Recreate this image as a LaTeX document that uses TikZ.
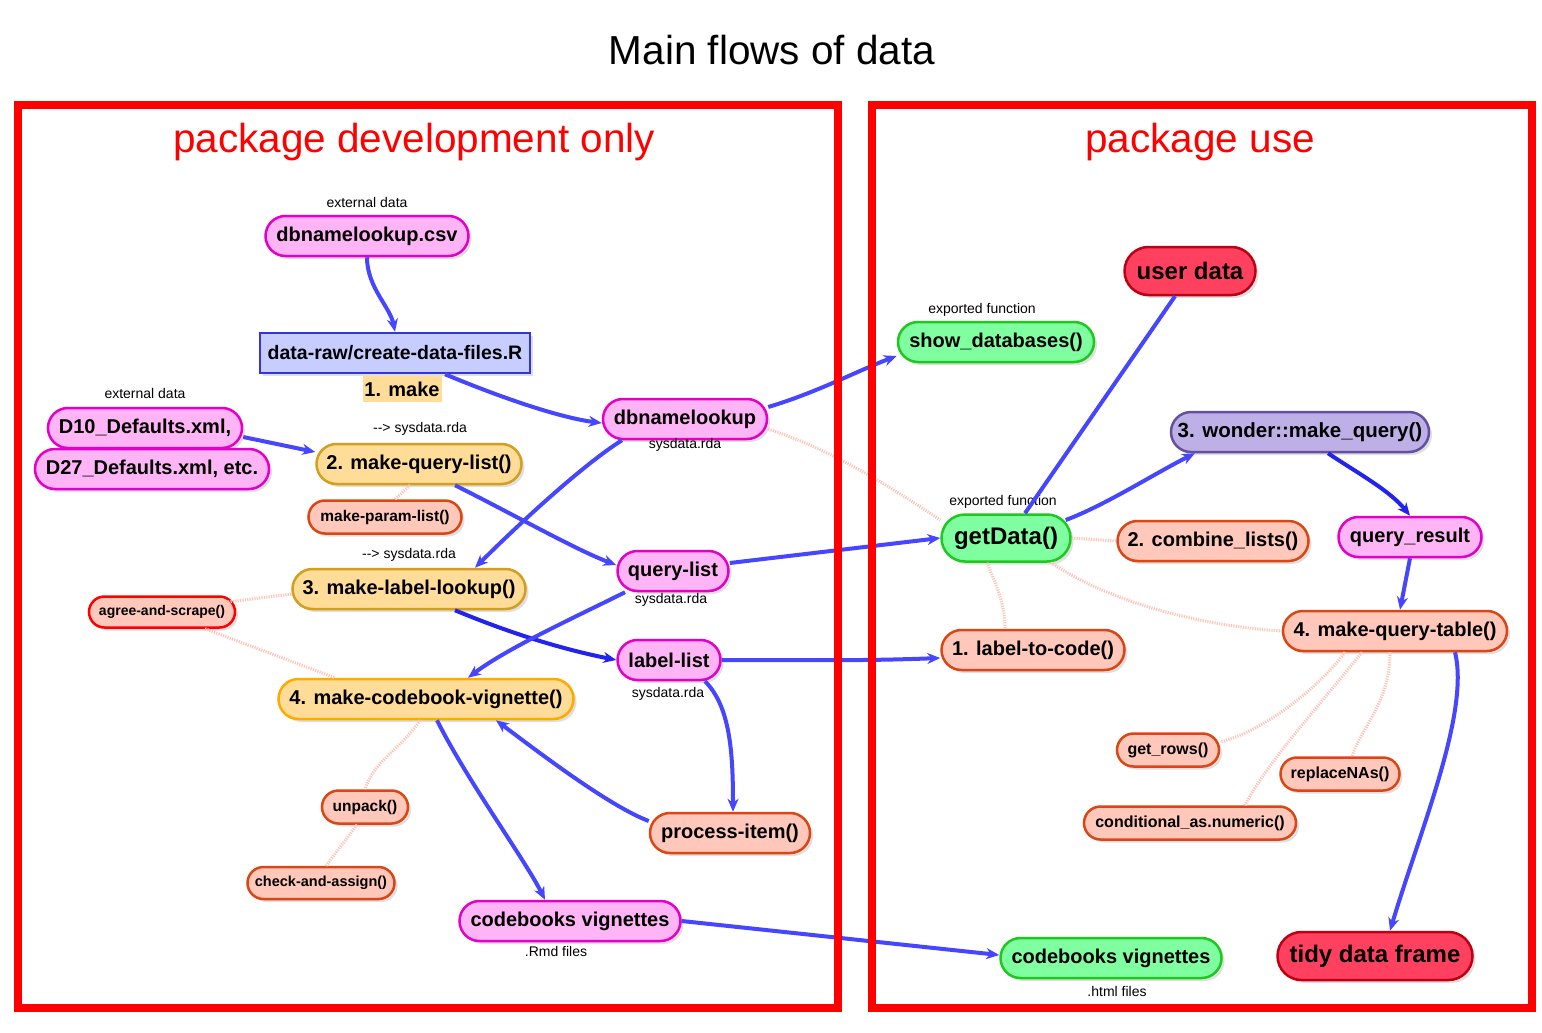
\documentclass[tikz,border=0pt]{standalone}
\usepackage{fontspec}
\setmainfont{Liberation Sans}
\usepackage{tikz}
\usetikzlibrary{arrows.meta}
\usetikzlibrary{shapes.misc}
\usetikzlibrary{shadows}

\definecolor{pinkfill}{RGB}{255,180,245}
\definecolor{pinkline}{RGB}{228,0,200}
\definecolor{yellowfill}{RGB}{255,221,153}
\definecolor{yellowline}{RGB}{212,158,30}
\definecolor{orangeline}{RGB}{255,170,0}
\definecolor{salmonfill}{RGB}{255,200,186}
\definecolor{salmonline}{RGB}{218,70,20}
\definecolor{greenfill}{RGB}{128,255,160}
\definecolor{greenline}{RGB}{30,200,30}
\definecolor{redfill}{RGB}{255,65,95}
\definecolor{redline}{RGB}{190,0,20}
\definecolor{purplefill}{RGB}{190,176,230}
\definecolor{purpleline}{RGB}{100,80,160}
\definecolor{boxfill}{RGB}{200,205,255}
\definecolor{boxline}{RGB}{50,50,230}
\definecolor{flowblue}{RGB}{70,70,255}
\definecolor{darkflow}{RGB}{35,35,240}
\definecolor{dotline}{RGB}{255,196,186}

\tikzset{
  pill/.style={rounded rectangle, draw, line width=2.5pt, minimum height=40pt,
    inner xsep=6pt, inner ysep=2pt, font=\bfseries\fontsize{20}{20}\selectfont,
    drop shadow={shadow xshift=3pt, shadow yshift=-3pt, opacity=0.25}},
  pinknode/.style={pill, fill=pinkfill, draw=pinkline},
  yellownode/.style={pill, fill=yellowfill, draw=yellowline},
  salmonnode/.style={pill, fill=salmonfill, draw=salmonline},
  greennode/.style={pill, fill=greenfill, draw=greenline},
  rednode/.style={pill, fill=redfill, draw=redline, minimum height=48pt, font=\bfseries\fontsize{24}{24}\selectfont},
  smallnode/.style={salmonnode, minimum height=33pt, font=\bfseries\fontsize{15.5}{15.5}\selectfont},
  tag/.style={font=\fontsize{14}{14}\selectfont, inner sep=1pt},
  flow/.style={draw=flowblue, line width=4pt, -{Stealth[length=13pt,width=11pt]}},
  darkflowline/.style={flow, draw=darkflow},
  helper/.style={draw=dotline, line width=3pt, dash pattern=on 1.2pt off 1.2pt},
  frame/.style={draw=red, line width=8pt}
}

\begin{document}
\begin{tikzpicture}[x=1pt,y=-1pt]
\fill[white] (0,0) rectangle (1542,1033);
\useasboundingbox (0,0) rectangle (1542,1033);

\node (title) at (772,50) {\fontsize{40.5}{40.5}\selectfont Main flows of data};
\node[red] (devtitle) at (414,142) {\fontsize{40.5}{40.5}\selectfont package development only};
\node[red] (usetitle) at (1200,142) {\fontsize{40.5}{40.5}\selectfont package use};

% development side
\node[pinknode, minimum width=215pt] (csv) at (367,236) {dbnamelookup.csv};
\node[tag] (csvtag) at (367,202) {external data};
\node[draw=boxline, fill=boxfill, line width=2.5pt, minimum width=270pt, minimum height=40pt,
  font=\bfseries\fontsize{19.5}{19.5}\selectfont, inner sep=2pt,
  drop shadow={shadow xshift=3pt, shadow yshift=-3pt, opacity=0.25}] (script) at (395,353) {data-raw/create-data-files.R};
\node[fill=yellowfill, minimum width=79pt, minimum height=26pt, inner sep=1pt,
  font=\bfseries\fontsize{20}{20}\selectfont] (make) at (402,389) {1. make};
\node[pinknode, minimum width=206pt] (dten) at (145,428) {D10\_Defaults.xml,};
\node[tag] (dtag) at (145,393) {external data};
\node[pinknode, minimum width=246pt] (dtwo) at (152,469) {D27\_Defaults.xml, etc.};
\node[yellownode, minimum width=217pt] (mql) at (419,464) {2. make-query-list()};
\node[tag] (mqltag) at (420,429) {-{}-> sysdata.rda};
\node[smallnode, minimum width=165pt] (mpl) at (385,517) {make-param-list()};
\node[pinknode, minimum width=176pt] (dbnl) at (685,419) {dbnamelookup};
\node[tag] (dbnltag) at (685,445) {sysdata.rda};
\node[pinknode, minimum width=123pt] (ql) at (673,571) {query-list};
\node[tag] (qltag) at (671,600) {sysdata.rda};
\node[yellownode, minimum width=245pt] (mll) at (409,589) {3. make-label-lookup()};
\node[tag] (mlltag) at (409,555) {-{}-> sysdata.rda};
\node[smallnode, draw=red, minimum width=158pt, minimum height=31pt,
  font=\bfseries\fontsize{14}{14}\selectfont] (agree) at (162,612) {agree-and-scrape()};
\node[pinknode, minimum width=115pt] (ll) at (669,660) {label-list};
\node[tag] (lltag) at (668,694) {sysdata.rda};
\node[yellownode, draw=orangeline, minimum width=307pt] (mcv) at (426,699) {4. make-codebook-vignette()};
\node[smallnode, minimum width=98pt] (unpack) at (365,807) {unpack()};
\node[smallnode, minimum width=159pt, minimum height=32pt,
  font=\bfseries\fontsize{14.5}{14.5}\selectfont] (chk) at (321,883) {check-and-assign()};
\node[salmonnode, minimum width=172pt] (pi) at (730,833) {process-item()};
\node[pinknode, minimum width=233pt] (cvr) at (570,921) {codebooks vignettes};
\node[tag] (cvrtag) at (556,951) {.Rmd files};

% use side
\node[greennode, minimum width=208pt] (showdb) at (996,342) {show\_databases()};
\node[tag] (showdbtag) at (982,310) {exported function};
\node[rednode, minimum width=143pt] (ud) at (1190,271) {user data};
\node[pill, fill=purplefill, draw=purpleline, minimum width=270pt,
  font=\bfseries\fontsize{20.5}{20.5}\selectfont] (wq) at (1300,432) {3. wonder::make\_query()};
\node[greennode, minimum width=141pt, minimum height=47pt, font=\bfseries\fontsize{24}{24}\selectfont] (gd) at (1006,538) {getData()};
\node[tag] (gdtag) at (1003,502) {exported function};
\node[salmonnode, minimum width=203pt] (cl) at (1213,541) {2. combine\_lists()};
\node[pinknode, minimum width=155pt] (qr) at (1410,537) {query\_result};
\node[salmonnode, minimum width=236pt] (mqt) at (1395,631) {4. make-query-table()};
\node[salmonnode, minimum width=195pt] (ltc) at (1033,650) {1. label-to-code()};
\node[smallnode, minimum width=114pt, font=\bfseries\fontsize{16}{16}\selectfont] (gr) at (1168,750) {get\_rows()};
\node[smallnode, minimum width=131pt, font=\bfseries\fontsize{16}{16}\selectfont] (rna) at (1340,774) {replaceNAs()};
\node[smallnode, minimum width=224pt, font=\bfseries\fontsize{16}{16}\selectfont] (cond) at (1190,823) {conditional\_as.numeric()};
\node[greennode, minimum width=233pt] (cvh) at (1111,958) {codebooks vignettes};
\node[tag] (cvhtag) at (1117,991) {.html files};
\node[rednode, minimum width=207pt] (td) at (1375,956) {tidy data frame};

% helper links
\draw[helper] ([xshift=-9pt]mql.south) -- ([xshift=10pt]mpl.north);
\draw[helper] ([yshift=-5pt]mll.west) -- ([xshift=-8pt,yshift=10pt]agree.east);
\draw[helper] ([xshift=43pt]agree.south) -- ([xshift=-91pt]mcv.north);
\draw[helper] ([xshift=-6pt]mcv.south) .. controls +(-20,30) and +(10,-30) .. (unpack.north);
\draw[helper] ([xshift=-8pt]unpack.south) -- ([xshift=5pt]chk.north);
\draw[helper] ([yshift=-10pt]dbnl.east) .. controls +(60,20) and +(-60,-40) .. ([yshift=18pt]gd.west);
\draw[helper] (gd.east) -- (cl.west);
\draw[helper] ([xshift=-19pt]gd.south) .. controls +(10,25) and +(0,-25) .. ([xshift=-28pt]ltc.north);
\draw[helper] ([xshift=45pt]gd.south) .. controls +(60,40) and +(-80,-5) .. (mqt.west);
\draw[helper] ([xshift=-50pt]mqt.south) .. controls +(-30,40) and +(40,-10) .. ([yshift=8pt]gr.east);
\draw[helper] ([xshift=-33pt]mqt.south) .. controls +(-40,50) and +(20,-40) .. ([xshift=55pt]cond.north);
\draw[helper] ([xshift=-5pt]mqt.south) .. controls +(0,50) and +(10,-30) .. ([xshift=12pt]rna.north);

% flows
\draw[flow] (csv.south) .. controls +(0,30) and +(-5,-25) .. (script.north);
\draw[flow] ([xshift=50pt]script.south) .. controls +(60,25) and +(-40,-5) .. ([yshift=-4pt]dbnl.west);
\draw[flow] ([yshift=-9pt]dten.east) -- ([yshift=12pt]mql.west);
\draw[flow] ([xshift=36pt]mql.south) .. controls +(60,30) and +(-40,-15) .. ([yshift=6pt]ql.west);
\draw[flow] ([xshift=-63pt]dbnl.south) .. controls +(-40,25) and +(40,-40) .. ([xshift=66pt]mll.north);
\draw[flow] ([yshift=12pt]dbnl.east) .. controls +(50,-15) and +(-40,15) .. ([yshift=-14pt]showdb.west);
\draw[flow] ([yshift=8pt]ql.east) -- (gd.west);
\draw[darkflowline] ([xshift=46pt]mll.south) .. controls +(60,25) and +(-50,-10) .. (ll.west);
\draw[flow] ([xshift=-48pt]ql.south) .. controls +(-50,25) and +(40,-30) .. ([xshift=42pt]mcv.north);
\draw[flow] (ll.east) .. controls +(100,0) and +(-80,3) .. ([yshift=-8pt]ltc.west);
\draw[flow] ([xshift=36pt]ll.south) .. controls +(25,25) and +(0,-60) .. ([xshift=3pt]pi.north);
\draw[flow] ([yshift=12pt]pi.west) .. controls +(-40,-15) and +(40,30) .. ([xshift=70pt]mcv.south);
\draw[flow] ([xshift=11pt]mcv.south) .. controls +(30,60) and +(-20,-40) .. ([xshift=-25pt]cvr.north);
\draw[flow] (cvr.east) -- ([yshift=3pt]cvh.west);
\draw[flow, -] ([xshift=-15pt]ud.south) -- ([xshift=19pt]gd.north);
\draw[flow] ([xshift=-6pt,yshift=18pt]gd.east) .. controls +(40,-15) and +(-40,20) .. ([xshift=-105pt]wq.south);
\draw[darkflowline] ([xshift=28pt]wq.south) .. controls +(30,20) and +(-20,-25) .. (qr.north);
\draw[flow] (qr.south) -- ([xshift=5pt]mqt.north);
\draw[flow] ([xshift=60pt]mqt.south) .. controls +(15,60) and +(30,-100) .. ([xshift=15pt]td.north);

% panels
\draw[frame] (18,105) rectangle (838,1008);
\draw[frame] (872,105) rectangle (1532,1008);
\end{tikzpicture}
\end{document}
